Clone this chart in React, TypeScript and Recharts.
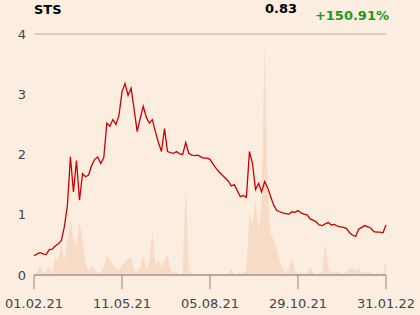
import { ComposedChart, Line, Area, XAxis, YAxis, CartesianGrid } from "recharts";

const tickLabels = ["01.02.21", "11.05.21", "05.08.21", "29.10.21", "31.01.22"];

const price = [
  0.32, 0.35, 0.37, 0.35, 0.34, 0.42, 0.43, 0.48, 0.52, 0.57,
  0.8, 1.15, 1.96, 1.38, 1.9, 1.24, 1.68, 1.63, 1.66, 1.82,
  1.92, 1.96, 1.85, 1.95, 2.52, 2.47, 2.58, 2.5, 2.65, 3.04,
  3.18, 2.98, 3.1, 2.75, 2.38, 2.6, 2.8, 2.62, 2.52, 2.58,
  2.38, 2.2, 2.05, 2.43, 2.05, 2.03, 2.02, 2.05, 2.01,
  2.0, 2.2, 2.02, 1.99, 1.98, 1.99, 1.96, 1.94, 1.94, 1.92,
  1.84, 1.77, 1.71, 1.66, 1.61, 1.56, 1.48, 1.5, 1.4, 1.3,
  1.32, 1.29, 2.05, 1.85, 1.42, 1.52, 1.38, 1.55, 1.45, 1.3,
  1.16, 1.07, 1.05, 1.03, 1.02, 1.01, 1.05, 1.04, 1.07, 1.03,
  1.01, 1.0, 0.93, 0.91, 0.88, 0.83, 0.82, 0.85, 0.87, 0.83,
  0.84, 0.81, 0.8, 0.79, 0.77, 0.7, 0.66, 0.64, 0.76, 0.79,
  0.82, 0.8, 0.78, 0.72, 0.71, 0.71, 0.7, 0.83,
];

// volume, relative units
const volume = [
  0, 2, 10, 2, 3, 9, 2, 18, 15, 30,
  15, 32, 55, 35, 30, 52, 35, 12, 3, 10,
  5, 2, 3, 8, 20, 15, 10, 7, 5, 10,
  12, 16, 18, 5, 3, 8, 20, 6, 12, 45,
  10, 15, 8, 15, 20, 5, 3, 2, 1,
  2, 90, 5, 1, 1, 0, 1, 1, 1, 1,
  1, 1, 1, 1, 1, 1, 6, 1, 1, 2,
  2, 5, 62, 50, 75, 45, 70, 229, 80, 40,
  35, 25, 15, 6, 2, 5, 18, 3, 2, 3,
  2, 1, 8, 3, 1, 2, 3, 32, 5, 2,
  3, 4, 2, 1, 3, 6, 7, 4, 6, 3,
  2, 4, 2, 1, 2, 1, 2, 15,
];

const data = price.map((p, i) => ({ idx: i, price: p, vol: volume[i] }));
const last = price.length - 1;
const xTicks = tickLabels.map((_, k) => (last * k) / (tickLabels.length - 1));

const font = "DejaVu Sans, sans-serif";

export default function App() {
  return (
    <div
      style={{
        position: "fixed",
        left: 0,
        top: 0,
        width: 420,
        height: 315,
        background: "#fcede1",
        fontFamily: font,
      }}
    >
      <div style={{ position: "absolute", left: 34, top: 2, fontSize: 13, fontWeight: "bold", color: "#000" }}>STS</div>
      <div style={{ position: "absolute", right: 123, top: 1, fontSize: 13, fontWeight: "bold", color: "#000" }}>0.83</div>
      <div style={{ position: "absolute", right: 31, top: 8, fontSize: 13, fontWeight: "bold", color: "#1a9a1a" }}>+150.91%</div>
      <ComposedChart
        width={420}
        height={315}
        data={data}
        margin={{ top: 34, right: 34, bottom: 0, left: 0 }}
        style={{ fontFamily: font }}
      >
        <CartesianGrid vertical={false} stroke="#b5b0ab" strokeWidth={1} />
        <XAxis
          dataKey="idx"
          type="number"
          domain={[0, last]}
          ticks={xTicks}
          tickFormatter={(v: number) => tickLabels[Math.round((v / last) * (tickLabels.length - 1))]}
          height={40}
          tickSize={14}
          tickMargin={10}
          stroke="#8a8683"
          tick={{ fill: "#444", fontSize: 13 }}
        />
        <YAxis
          yAxisId="p"
          domain={[0, 4]}
          ticks={[0, 1, 2, 3, 4]}
          width={34}
          axisLine={false}
          tickLine={false}
          tick={{ fill: "#444", fontSize: 13 }}
        />
        <YAxis yAxisId="v" orientation="right" domain={[0, 240]} hide />
        <Area
          yAxisId="v"
          dataKey="vol"
          type="linear"
          stroke="none"
          fill="#f2c09c"
          fillOpacity={0.4}
          isAnimationActive={false}
        />
        <Line
          yAxisId="p"
          dataKey="price"
          type="linear"
          stroke="#cc0000"
          strokeWidth={1.3}
          dot={false}
          isAnimationActive={false}
        />
      </ComposedChart>
    </div>
  );
}
